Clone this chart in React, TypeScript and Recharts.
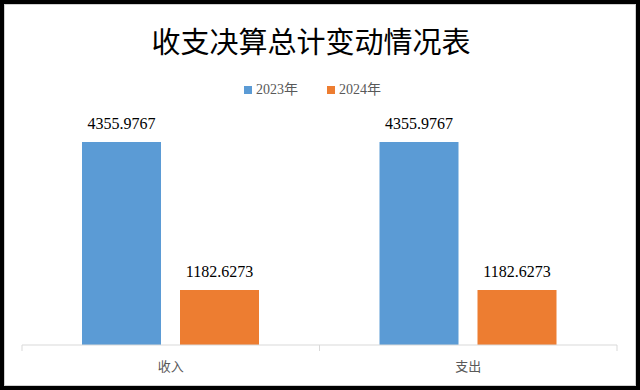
import React from "react";
import { BarChart, Bar, XAxis, YAxis, LabelList } from "recharts";

const categories = ["收入", "支出"];
const values2023 = [4355.9767, 4355.9767];
const values2024 = [1182.6273, 1182.6273];
const seriesNames = ["2023年", "2024年"];
const seriesColors = ["#5B9BD5", "#ED7D31"];
const title = "收支决算总计变动情况表";

const data = categories.map((c, i) => ({
  name: c,
  v2023: values2023[i],
  v2024: values2024[i],
}));

const CJK = "'Noto Sans CJK SC', 'Noto Sans', sans-serif";
const SERIF = "'Liberation Serif', 'Times New Roman', 'Noto Sans CJK SC', serif";

const AxisTick = (props: any) => {
  const { x, y, payload, index, visibleTicksCount } = props;
  const off = payload && typeof payload.offset === "number" && payload.offset > 0 ? payload.offset : 148.75;
  const last = index === (visibleTicksCount ?? categories.length) - 1;
  return (
    <g>
      <line x1={x - off} x2={x - off} y1={y} y2={y + 6} stroke="#d9d9d9" strokeWidth={1} />
      {last && <line x1={x + off} x2={x + off} y1={y} y2={y + 6} stroke="#d9d9d9" strokeWidth={1} />}
      <text x={x} y={y + 22} textAnchor="middle" dominantBaseline="middle" fill="#595959" fontSize={13} fontFamily={CJK}>
        {payload.value}
      </text>
    </g>
  );
};

export default function App() {
  return (
    <div style={{ position: "absolute", left: 0, top: 0, width: 640, height: 390, background: "#000" }}>
      <div
        style={{
          position: "absolute",
          left: 4,
          top: 4,
          width: 632,
          height: 382,
          background: "#fff",
          boxSizing: "border-box",
          border: "1px solid #d0d0d0",
        }}
      />
      <div
        style={{
          position: "absolute",
          left: 0,
          width: 622,
          top: 22,
          textAlign: "center",
          fontFamily: CJK,
          fontSize: 29,
          color: "#000",
          lineHeight: "36px",
        }}
      >
        {title}
      </div>
      <div
        style={{
          position: "absolute",
          left: 244,
          top: 81,
          display: "flex",
          alignItems: "center",
          fontFamily: SERIF,
          fontSize: 14,
          color: "#595959",
          lineHeight: "18px",
        }}
      >
        {seriesNames.map((n, i) => (
          <div key={n} style={{ display: "flex", alignItems: "center", marginRight: i === 0 ? 29 : 0 }}>
            <div style={{ width: 8, height: 8, background: seriesColors[i], marginRight: 4 }} />
            <span>{n}</span>
          </div>
        ))}
      </div>
      <div style={{ position: "absolute", left: 0, top: 0 }}>
        <BarChart
          width={640}
          height={390}
          data={data}
          margin={{ top: 112, right: 23, left: 22, bottom: 0 }}
          barGap={19}
        >
          <XAxis
            dataKey="name"
            height={45}
            axisLine={{ stroke: "#d9d9d9" }}
            tickLine={false}
            tickSize={0}
            tickMargin={0}
            tick={<AxisTick />}
            interval={0}
          />
          <YAxis hide domain={[0, 5000]} />
          <Bar dataKey="v2023" fill={seriesColors[0]} barSize={79} isAnimationActive={false}>
            <LabelList dataKey="v2023" position="top" offset={13} fill="#000" fontSize={16} fontFamily={SERIF} />
          </Bar>
          <Bar dataKey="v2024" fill={seriesColors[1]} barSize={79} isAnimationActive={false}>
            <LabelList dataKey="v2024" position="top" offset={13} fill="#000" fontSize={16} fontFamily={SERIF} />
          </Bar>
        </BarChart>
      </div>
    </div>
  );
}
